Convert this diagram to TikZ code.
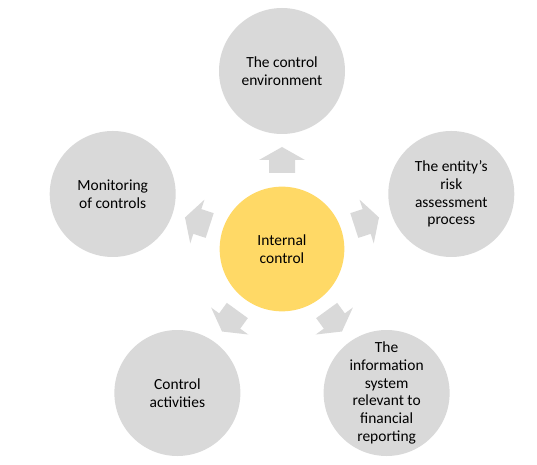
\documentclass[tikz,border=0pt]{standalone}
\usepackage{fontspec}
\setmainfont{Carlito}
\usetikzlibrary{calc}
\definecolor{outergray}{HTML}{D9D9D9}
\definecolor{arrowgray}{HTML}{D9D9D9}
\definecolor{coreyellow}{HTML}{FFD966}
\tikzset{
  outer/.style={circle, fill=outergray, minimum size=94.5pt, inner sep=0pt, align=center, text=black, font=\fontsize{11.6}{13.3}\selectfont},
  core/.style={circle, fill=coreyellow, minimum size=93.5pt, inner sep=0pt, align=center, text=black, font=\fontsize{11.6}{13.3}\selectfont},
  blockarrow/.style={fill=arrowgray}
}
\begin{document}
\begin{tikzpicture}[x=0.75pt,y=0.75pt]
\useasboundingbox (0,0) rectangle (537,465);
\node[core] (c) at (282,216) {Internal\\control};
\node[outer] (env) at ($(c)+(90:178)$) {The control\\environment};
\node[outer] (risk) at ($(c)+(18:178)$) {The entity’s\\risk\\assessment\\process};
\node[outer] (info) at ($(c)+(-54:178)$) {The\\information\\system\\relevant to\\financial\\reporting};
\node[outer] (act) at ($(c)+(-126:178)$) {Control\\activities};
\node[outer] (mon) at ($(c)+(162:178)$) {Monitoring\\of controls};
\foreach \a in {90,18,-54,-126,162}{
  \begin{scope}[shift={(c)}, rotate=\a]
    \fill[blockarrow] (76,-13) -- (89,-13) -- (89,-23) -- (102,0) -- (89,23) -- (89,13) -- (76,13) -- cycle;
  \end{scope}
}
\end{tikzpicture}
\end{document}
